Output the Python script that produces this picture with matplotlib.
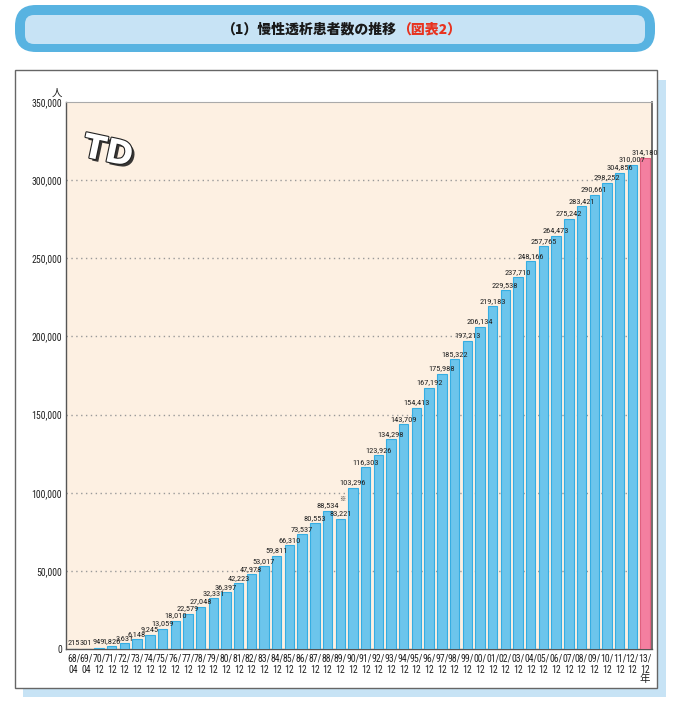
import numpy as np
import matplotlib
matplotlib.use("Agg")
import matplotlib.pyplot as plt
import matplotlib.font_manager as fm
from matplotlib.patches import FancyBboxPatch, Rectangle
import matplotlib.patheffects as pe

plt.rcParams['font.family'] = ['Noto Sans CJK JP', 'DejaVu Sans']

# pick a narrow font for the numbers if one is installed
NARROW, STRETCH = 'Roboto', 'normal'
_fonts = fm.fontManager.ttflist
for cand in ['Liberation Sans Narrow', 'Roboto Condensed', 'DejaVu Sans Condensed',
             'Open Sans Condensed', 'Noto Sans Condensed']:
    if any(f.name == cand for f in _fonts):
        NARROW = cand
        break
else:
    for fam in ['Roboto', 'Noto Sans', 'Open Sans', 'DejaVu Sans']:
        if any(f.name == fam and f.stretch in ('condensed', 'semi-condensed', 'extra-condensed')
               for f in _fonts):
            NARROW, STRETCH = fam, 'condensed'
            break

# data: chronic dialysis patients (people)
years = ["68", "69", "70", "71", "72", "73", "74", "75", "76", "77", "78", "79",
         "80", "81", "82", "83", "84", "85", "86", "87", "88", "89", "90", "91",
         "92", "93", "94", "95", "96", "97", "98", "99", "00", "01", "02", "03",
         "04", "05", "06", "07", "08", "09", "10", "11", "12", "13"]
months = ["04", "04"] + ["12"] * 44
patients = [215, 301, 949, 1826, 3631, 6148, 9245, 13059, 18010, 22579, 27048, 32331,
            36397, 42223, 47978, 53017, 59811, 66310, 73537, 80553, 88534, 83221, 103296, 116303,
            123926, 134298, 143709, 154413, 167192, 175988, 185322, 197213, 206134, 219183, 229538, 237710,
            248166, 257765, 264473, 275242, 283421, 290661, 298252, 304856, 310007, 314180]
yticks = [0, 50000, 100000, 150000, 200000, 250000, 300000, 350000]

W, H = 674, 721
fig = plt.figure(figsize=(W / 100, H / 100), dpi=100)

# background layer in pixel coords
bg = fig.add_axes([0, 0, 1, 1])
bg.set_xlim(0, W)
bg.set_ylim(H, 0)
bg.axis("off")

bg.add_patch(FancyBboxPatch((15, 5), 640, 47, boxstyle="round,pad=0,rounding_size=21",
                            fc="#58b3e1", ec="none"))
bg.add_patch(FancyBboxPatch((25, 15), 620, 29, boxstyle="round,pad=0,rounding_size=9",
                            fc="#c7e3f5", ec="none"))
bg.text(396, 29.5, "（1）慢性透析患者数の推移", ha="right", va="center",
        fontsize=10, fontweight="black", color="#1a1a1a")
bg.text(397, 29.5, "（図表2）", ha="left", va="center",
        fontsize=10, fontweight="black", color="#e8321e")

# shadow + frame
bg.add_patch(Rectangle((23, 80), 643, 617, fc="#c7e3f5", ec="none"))
bg.add_patch(Rectangle((15, 70), 642, 618, fc="white", ec="#666666", lw=1))

bg.text(57, 93, "人", ha="center", va="center", fontsize=7.5, color="#222222")
bg.text(645, 679, "年", ha="center", va="center", fontsize=7.5, color="#222222")

# main chart
ax = fig.add_axes([66 / W, 1 - 649 / H, 586 / W, (649 - 102) / H])
ax.set_facecolor("#fdf0e2")
x = np.arange(len(patients))
colors = ["#6cc5ec"] * (len(patients) - 1) + ["#f47fa0"]
edges = ["#35ade2"] * (len(patients) - 1) + ["#e0607f"]
ax.bar(x, patients, width=0.74, color=colors, edgecolor=edges, linewidth=0.8, zorder=3)

for xi, v in zip(x, patients):
    ax.text(xi, v + 1500, f"{v:,}", ha="center", va="bottom", fontsize=6,
            color="#222222", zorder=4, family=NARROW, fontstretch=STRETCH)
ax.text(x[21] + 0.15, patients[21] + 10000, "※", ha="center", va="bottom",
        fontsize=4.5, color="#222222", zorder=4)

ax.set_xlim(-0.6, len(patients) - 0.45)
ax.set_ylim(0, 350000)
ax.set_yticks(yticks)
ax.set_yticklabels([f"{t:,}" for t in yticks], fontsize=7, color="#222222",
                   family=NARROW, fontstretch=STRETCH)
ax.set_xticks(x)
ax.set_xticklabels([f"{y}/\n{m}" for y, m in zip(years, months)], fontsize=7,
                   color="#222222", linespacing=1.25, family=NARROW, fontstretch=STRETCH)
ax.tick_params(length=0, pad=3)
for t in yticks[1:-1]:
    ax.axhline(t, color="#999999", lw=1, ls=(0, (1, 2.5)), zorder=1)
for s in ["left", "bottom"]:
    ax.spines[s].set_color("#555555")
    ax.spines[s].set_linewidth(1)
ax.spines["top"].set_color("#aaaaaa")
ax.spines["right"].set_color("#555555")
ax.spines["right"].set_linewidth(1.2)

# logo approximation
ax.text(2.7, 318000, "TD", ha="center", va="center", fontsize=24, fontweight="bold",
        color="white", rotation=-12, zorder=2, family=['DejaVu Sans'],
        path_effects=[pe.withSimplePatchShadow(offset=(2, -2), shadow_rgbFace="#222222", alpha=0.9),
                      pe.withStroke(linewidth=1.6, foreground="#222222")])

fig.savefig("out.png", dpi=100)
